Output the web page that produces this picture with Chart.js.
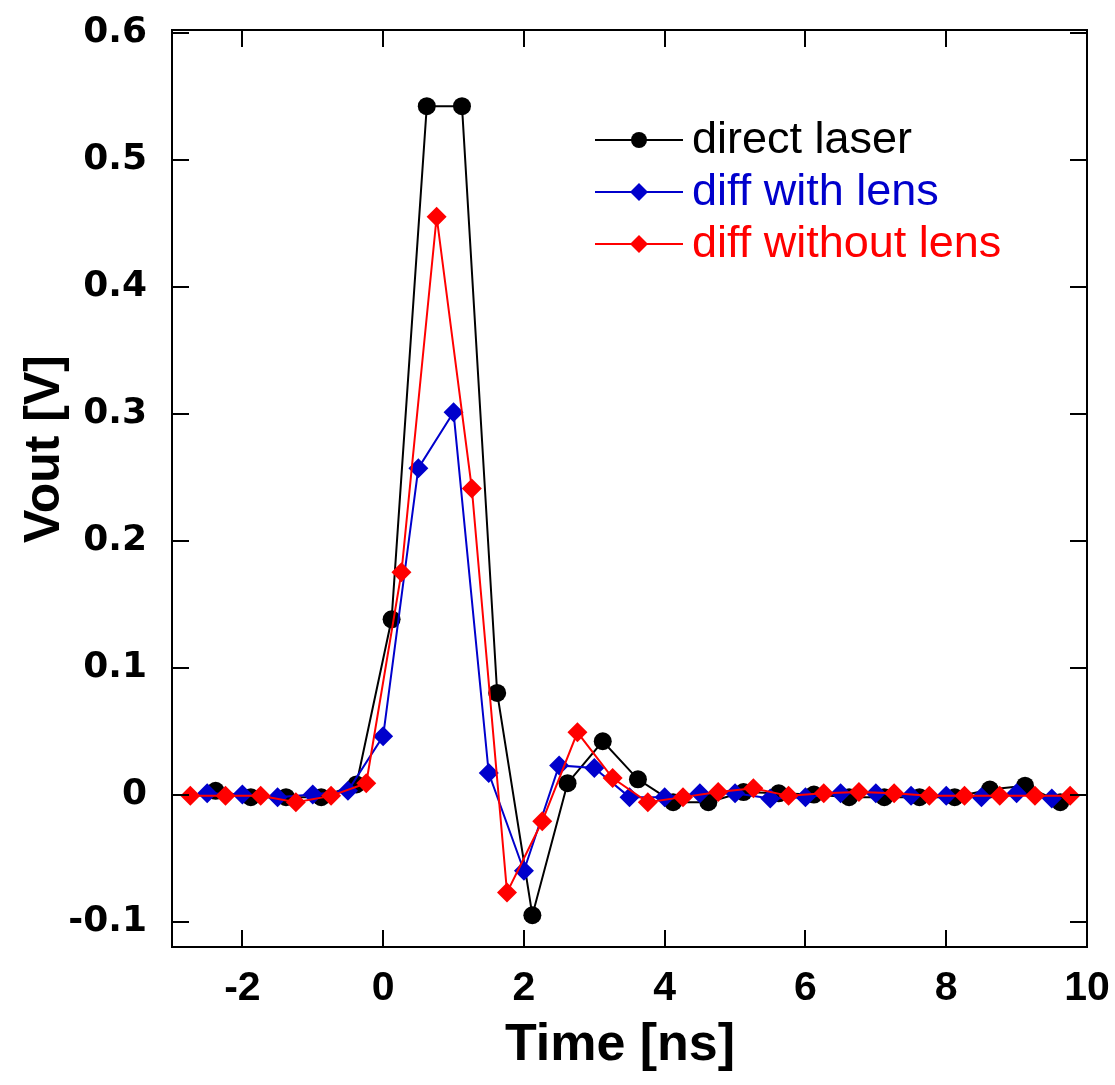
<!DOCTYPE html>
<html>
<head>
<meta charset="utf-8">
<style>
  html, body { margin: 0; padding: 0; background: #fff; }
  #wrap { width: 1115px; height: 1085px; position: relative; }
</style>
<script src="https://cdn.jsdelivr.net/npm/chart.js@4.4.1/dist/chart.umd.min.js"></script>
</head>
<body>
<div id="wrap"><canvas id="c" width="1115" height="1085"></canvas></div>
<script>
// Time samples [ns] and output voltage [V] for each measurement
const directTime = [-2.38, -1.88, -1.38, -0.88, -0.38, 0.12, 0.62, 1.12, 1.62, 2.12, 2.62, 3.12, 3.62, 4.12, 4.62, 5.12, 5.62, 6.12, 6.62, 7.12, 7.62, 8.12, 8.62, 9.12, 9.62];
const directVout = [0.003, -0.002, -0.002, -0.002, 0.008, 0.138, 0.542, 0.542, 0.080, -0.095, 0.009, 0.042, 0.012, -0.006, -0.006, 0.002, 0.001, 0.000, -0.002, -0.002, -0.002, -0.002, 0.004, 0.007, -0.006];

const lensTime = [-2.5, -2.0, -1.5, -1.0, -0.5, 0.0, 0.5, 1.0, 1.5, 2.0, 2.5, 3.0, 3.5, 4.0, 4.5, 5.0, 5.5, 6.0, 6.5, 7.0, 7.5, 8.0, 8.5, 9.0, 9.5];
const lensVout = [0.001, 0.000, -0.002, 0.000, 0.003, 0.046, 0.257, 0.301, 0.017, -0.060, 0.023, 0.021, -0.002, -0.002, 0.001, 0.001, -0.003, -0.002, 0.001, 0.001, -0.001, -0.001, -0.002, 0.001, -0.003];

const noLensTime = [-2.74, -2.24, -1.74, -1.24, -0.74, -0.24, 0.26, 0.76, 1.26, 1.76, 2.26, 2.76, 3.26, 3.76, 4.26, 4.76, 5.26, 5.76, 6.26, 6.76, 7.26, 7.76, 8.26, 8.76, 9.26, 9.76];
const noLensVout = [-0.001, -0.001, -0.001, -0.006, -0.001, 0.009, 0.175, 0.455, 0.241, -0.077, -0.021, 0.049, 0.013, -0.006, -0.002, 0.002, 0.005, -0.001, 0.001, 0.002, 0.001, -0.001, -0.001, -0.001, -0.001, -0.001];

const seriesNames = ['direct laser', 'diff with lens', 'diff without lens'];

// Axis ticks
const xTickValues = [-2, 0, 2, 4, 6, 8, 10];
const xTickLabels = ['-2', '0', '2', '4', '6', '8', '10'];
const yTickValues = [-0.1, 0, 0.1, 0.2, 0.3, 0.4, 0.5, 0.6];
const yTickLabels = ['-0.1', '0', '0.1', '0.2', '0.3', '0.4', '0.5', '0.6'];

const toXY = (xs, ys) => xs.map((x, i) => ({ x: x, y: ys[i] }));

// Frame, inward ticks on all four sides, axis titles and the in-plot legend
const framePlugin = {
  id: 'frame',
  afterDatasetsDraw(chart) {
    const { ctx, chartArea: a, scales } = chart;
    ctx.save();
    ctx.strokeStyle = '#000';
    ctx.lineWidth = 2;
    ctx.beginPath();
    const tl = 17;
    xTickValues.forEach(v => {
      const px = Math.round(scales.x.getPixelForValue(v));
      ctx.moveTo(px, a.bottom); ctx.lineTo(px, a.bottom - tl);
      ctx.moveTo(px, a.top); ctx.lineTo(px, a.top + tl);
    });
    yTickValues.forEach(v => {
      const py = Math.round(scales.y.getPixelForValue(v));
      ctx.moveTo(a.left, py); ctx.lineTo(a.left + tl, py);
      ctx.moveTo(a.right, py); ctx.lineTo(a.right - tl, py);
    });
    ctx.stroke();
    ctx.strokeRect(a.left, a.top, a.right - a.left, a.bottom - a.top);

    ctx.fillStyle = '#000';
    ctx.textAlign = 'center';
    ctx.textBaseline = 'middle';

    // x axis title
    ctx.font = 'bold 52px "Liberation Sans", Arial, sans-serif';
    ctx.fillText('Time [ns]', 620, 1046);

    // y axis title
    ctx.save();
    ctx.translate(45, 449);
    ctx.rotate(-Math.PI / 2);
    ctx.font = 'bold 50px "Liberation Sans", Arial, sans-serif';
    ctx.fillText('Vout [V]', 0, 0);
    ctx.restore();

    // legend
    const lx0 = 595, lx1 = 683, ty0 = 140, dy = 52;
    chart.data.datasets.forEach((ds, i) => {
      const y = ty0 + i * dy;
      ctx.strokeStyle = ds.borderColor;
      ctx.lineWidth = 2;
      ctx.beginPath(); ctx.moveTo(lx0, y); ctx.lineTo(lx1, y); ctx.stroke();
      ctx.fillStyle = ds.pointBackgroundColor;
      const cx = (lx0 + lx1) / 2;
      ctx.beginPath();
      if (ds.pointStyle === 'circle') {
        ctx.arc(cx, y, 8, 0, Math.PI * 2);
      } else {
        const r = 9;
        ctx.moveTo(cx, y - r); ctx.lineTo(cx + r, y); ctx.lineTo(cx, y + r); ctx.lineTo(cx - r, y); ctx.closePath();
      }
      ctx.fill();
      ctx.font = '45px "Liberation Sans", Arial, sans-serif';
      ctx.textBaseline = 'middle';
      ctx.textAlign = 'left';
      ctx.fillText(ds.label, 692, y + 1);
    });
    ctx.restore();
  }
};

new Chart(document.getElementById('c'), {
  type: 'line',
  data: {
    datasets: [
      {
        label: seriesNames[0], data: toXY(directTime, directVout),
        borderColor: '#000000', pointBackgroundColor: '#000000', pointBorderColor: '#000000',
        borderWidth: 2, pointStyle: 'circle', pointRadius: 9, pointBorderWidth: 0, order: 3
      },
      {
        label: seriesNames[1], data: toXY(lensTime, lensVout),
        borderColor: '#0000CC', pointBackgroundColor: '#0000CC', pointBorderColor: '#0000CC',
        borderWidth: 2, pointStyle: 'rectRot', pointRadius: 10, pointBorderWidth: 0, order: 2
      },
      {
        label: seriesNames[2], data: toXY(noLensTime, noLensVout),
        borderColor: '#FF0000', pointBackgroundColor: '#FF0000', pointBorderColor: '#FF0000',
        borderWidth: 2, pointStyle: 'rectRot', pointRadius: 10, pointBorderWidth: 0, order: 1
      }
    ]
  },
  options: {
    responsive: false,
    animation: false,
    events: [],
    layout: { padding: { left: 0, top: 30, right: 28, bottom: 0 } },
    plugins: { legend: { display: false }, tooltip: { enabled: false } },
    elements: { line: { tension: 0 } },
    scales: {
      x: {
        type: 'linear', min: -3, max: 10,
        afterBuildTicks: s => { s.ticks = xTickValues.map(v => ({ value: v })); },
        afterFit: s => { s.height = 138; s.paddingLeft = 0; s.paddingRight = 0; },
        grid: { display: false, drawTicks: false },
        border: { display: false },
        ticks: {
          padding: 17,
          color: '#000',
          font: { family: '"Liberation Sans", Arial, sans-serif', weight: 'bold', size: 41 },
          callback: (v) => xTickLabels[xTickValues.indexOf(v)]
        },
        title: { display: false }
      },
      y: {
        type: 'linear', min: -0.12, max: 0.602,
        afterBuildTicks: s => { s.ticks = yTickValues.map(v => ({ value: v })); },
        afterFit: s => { s.width = 172; s.paddingTop = 0; s.paddingBottom = 0; },
        grid: { display: false, drawTicks: false },
        border: { display: false },
        ticks: {
          padding: 25,
          color: '#000',
          font: { family: '"DejaVu Sans", sans-serif', weight: 'bold', size: 36 },
          callback: (v) => yTickLabels[yTickValues.findIndex(t => Math.abs(t - v) < 1e-9)]
        },
        title: { display: false }
      }
    }
  },
  plugins: [framePlugin]
});
</script>
</body>
</html>
